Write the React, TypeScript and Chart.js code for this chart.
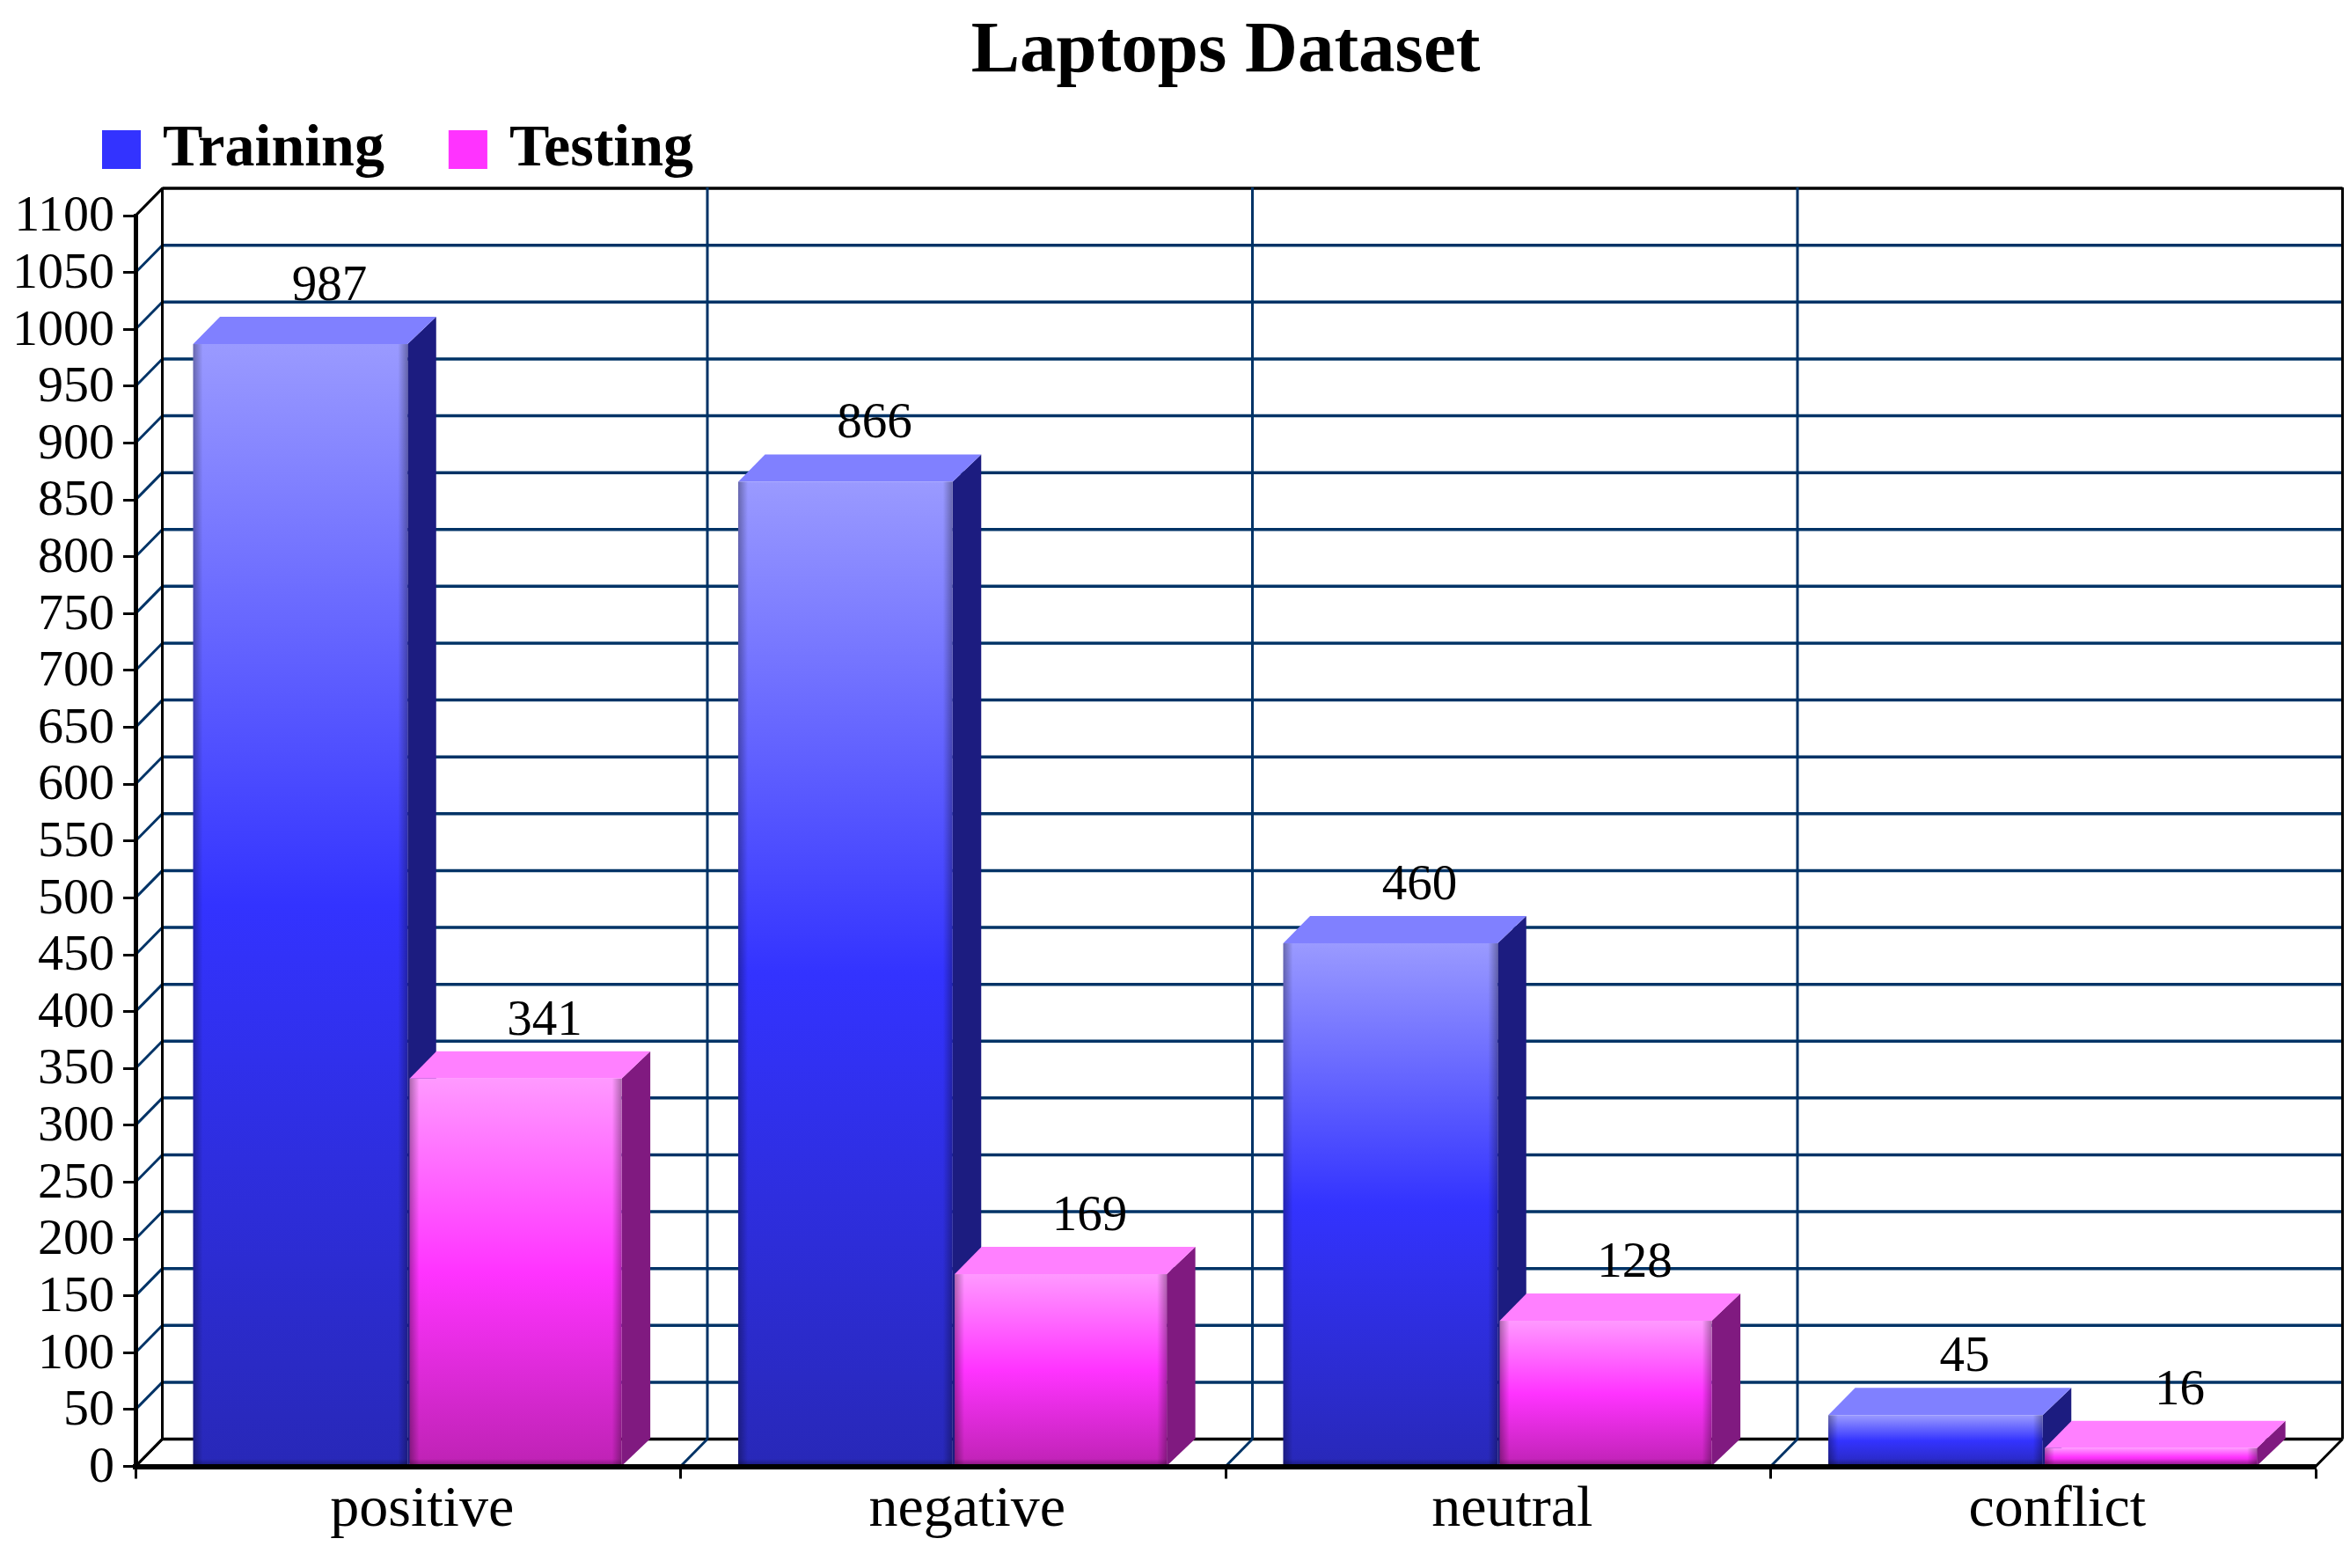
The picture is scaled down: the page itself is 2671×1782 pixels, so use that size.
import React, { useEffect, useRef } from "react";
import { Chart, registerables } from "chart.js";

Chart.register(...registerables);

const categories = ["positive", "negative", "neutral", "conflict"];
const trainingValues = [987, 866, 460, 45];
const testingValues = [341, 169, 128, 16];
const titleText = "Laptops Dataset";
const seriesNames = ["Training", "Testing"];
const swatchColors = ["#3333FF", "#FF33FF"];
const topColors = ["#8080FF", "#FF80FF"];
const sideColors = ["#1C1C80", "#801A80"];
const faceStops = [
  ["#9A9AFF", "#3333FF", "#2828B8"],
  ["#FF99FF", "#FF33FF", "#BE22B4"],
];
const GRID = "#003366";
const SERIF = "'Liberation Serif', serif";
const DX = 30.5;
const DY = 31;
const BAR_DX = 32.5;
const LEGEND_FONT = 68;
const LEGEND_PAD = 73;
const LEGEND_BOX = 35;
const SWATCH = 44;

function makeFace(ctx: any, series: number) {
  if (ctx.type !== "data") return swatchColors[series];
  const chart = ctx.chart;
  const yScale = chart.scales.y;
  if (!yScale) return swatchColors[series];
  const y1 = yScale.getPixelForValue(ctx.parsed.y);
  const y0 = yScale.getPixelForValue(0);
  const g = chart.ctx.createLinearGradient(0, y1, 0, y0);
  const s = faceStops[series];
  g.addColorStop(0, s[0]);
  g.addColorStop(0.5, s[1]);
  g.addColorStop(1, s[2]);
  return g;
}

function line(c: any, x1: number, y1: number, x2: number, y2: number, color: string, w: number) {
  c.strokeStyle = color;
  c.lineWidth = w;
  c.beginPath();
  c.moveTo(x1, y1);
  c.lineTo(x2, y2);
  c.stroke();
}

function poly(c: any, pts: number[][], color: string) {
  c.fillStyle = color;
  c.beginPath();
  pts.forEach((p, i) => (i ? c.lineTo(p[0], p[1]) : c.moveTo(p[0], p[1])));
  c.closePath();
  c.fill();
}

const depthPlugin = {
  id: "depth3d",
  afterLayout(chart: any) {
    chart.titleBlock.top = 10;
    chart.titleBlock.bottom = 110;
    chart.legend.left = 43;
    chart.legend.top = 63;
    chart.legend.bottom = 204;
  },
  beforeDatasetsDraw(chart: any) {
    const c = chart.ctx;
    const { x, y } = chart.scales;
    const n = categories.length;
    const y0 = y.getPixelForValue(0);
    const yTop = y.getPixelForValue(y.max);
    c.save();
    c.lineCap = "butt";
    y.ticks.forEach((t: any) => {
      const py = y.getPixelForValue(t.value);
      const edge = t.value === y.min || t.value === y.max;
      const col = edge ? "#000000" : GRID;
      line(c, x.left + DX, py - DY, x.right + DX, py - DY, col, 3.5);
      line(c, x.left, py, x.left + DX, py - DY, col, 3);
    });
    for (let i = 0; i <= n; i++) {
      const bx = x.left + (i * x.width) / n;
      const edge = i === 0 || i === n;
      const col = edge ? "#000000" : GRID;
      line(c, bx + DX, yTop - DY - 1, bx + DX, y0 - DY, col, 3);
      line(c, bx, y0, bx + DX, y0 - DY, col, 3);
    }
    // top and side faces of the bars
    [0, 1].forEach((ds) => {
      chart.getDatasetMeta(ds).data.forEach((b: any) => {
        const { x: cx, y: ty, base, width } = b.getProps(["x", "y", "base", "width"], true);
        const l = cx - width / 2;
        const r = cx + width / 2;
        poly(c, [[r, ty], [r + BAR_DX, ty - DY], [r + BAR_DX, base - DY], [r, base]], sideColors[ds]);
        poly(c, [[l, ty], [l + DX, ty - DY], [r + BAR_DX, ty - DY], [r, ty]], topColors[ds]);
      });
    });
    c.restore();
  },
  afterDatasetsDraw(chart: any) {
    const c = chart.ctx;
    c.save();
    [0, 1].forEach((ds) => {
      chart.getDatasetMeta(ds).data.forEach((b: any, i: number) => {
        const { x: cx, y: ty, base, width } = b.getProps(["x", "y", "base", "width"], true);
        const l = cx - width / 2;
        const r = cx + width / 2;
        const bev = 11;
        const gl = c.createLinearGradient(l, 0, l + bev, 0);
        gl.addColorStop(0, "rgba(0,0,0,0.32)");
        gl.addColorStop(1, "rgba(0,0,0,0)");
        c.fillStyle = gl;
        c.fillRect(l, ty, bev, base - ty);
        const gr = c.createLinearGradient(r - bev, 0, r, 0);
        gr.addColorStop(0, "rgba(0,0,0,0)");
        gr.addColorStop(1, "rgba(0,0,0,0.32)");
        c.fillStyle = gr;
        c.fillRect(r - bev, ty, bev, base - ty);
        const gb = c.createLinearGradient(0, base - 8, 0, base - 2);
        gb.addColorStop(0, "rgba(0,0,0,0)");
        gb.addColorStop(1, "rgba(0,0,0,0.25)");
        c.fillStyle = gb;
        c.fillRect(l, base - 8, width, 8);
        const value = chart.data.datasets[ds].data[i];
        c.fillStyle = "#000000";
        c.font = `57px ${SERIF}`;
        c.textAlign = "center";
        c.textBaseline = "alphabetic";
        c.fillText(String(value), cx + 33, ty - 50);
      });
    });
    c.restore();
  },
  afterDraw(chart: any) {
    // the legend's boxes are wider than the font-based gap allows: widen them to the right
    const c = chart.ctx;
    const lg = chart.legend;
    c.save();
    c.font = `bold ${LEGEND_FONT}px ${SERIF}`;
    let left = lg.left + LEGEND_PAD;
    const top = lg.top + LEGEND_PAD + (LEGEND_FONT - SWATCH) / 2;
    seriesNames.forEach((name, i) => {
      c.fillStyle = swatchColors[i];
      c.fillRect(left, top, SWATCH, SWATCH);
      left += LEGEND_BOX + LEGEND_FONT / 2 + c.measureText(name).width + LEGEND_PAD;
    });
    c.restore();
  },
};

export default function App() {
  const ref = useRef<HTMLCanvasElement>(null);
  useEffect(() => {
    const chart = new Chart(ref.current as HTMLCanvasElement, {
      type: "bar",
      data: {
        labels: categories,
        datasets: [
          { label: seriesNames[0], data: trainingValues, backgroundColor: (ctx: any) => makeFace(ctx, 0) },
          { label: seriesNames[1], data: testingValues, barPercentage: 0.985, backgroundColor: (ctx: any) => makeFace(ctx, 1) },
        ],
      },
      options: {
        responsive: false,
        animation: false,
        layout: { padding: { top: -5.5, left: 0, right: 39, bottom: 0 } },
        datasets: { bar: { categoryPercentage: 0.79, barPercentage: 0.996 } },
        plugins: {
          tooltip: { enabled: false },
          title: {
            display: true,
            text: titleText,
            fullSize: false,
            color: "#000000",
            padding: 0,
            font: { family: SERIF, size: 83, weight: "bold" },
          },
          legend: {
            display: true,
            position: "top",
            align: "start",
            labels: {
              boxWidth: LEGEND_BOX,
              boxHeight: SWATCH,
              padding: LEGEND_PAD,
              color: "#000000",
              font: { family: SERIF, size: LEGEND_FONT, weight: "bold" },
              generateLabels: () =>
                seriesNames.map((text, i) => ({
                  text,
                  fillStyle: swatchColors[i],
                  strokeStyle: swatchColors[i],
                  lineWidth: 0,
                  hidden: false,
                  datasetIndex: i,
                })),
            },
          },
        },
        scales: {
          x: {
            afterFit: (s: any) => {
              s.height = 115.5;
            },
            grid: { drawOnChartArea: false, drawTicks: true, tickLength: 14, tickWidth: 3, tickColor: "#000000" },
            border: { display: true, color: "#000000", width: 6, z: 1 },
            ticks: {
              color: "#000000",
              padding: -3,
              labelOffset: 16,
              maxRotation: 0,
              font: { family: SERIF, size: 66 },
            },
          },
          y: {
            min: 0,
            max: 1100,
            afterFit: (s: any) => {
              s.width = 154;
            },
            grid: { drawOnChartArea: false, drawTicks: true, tickLength: 14, tickWidth: 3, tickColor: "#000000" },
            border: { display: true, color: "#000000", width: 5, z: 1 },
            ticks: {
              stepSize: 50,
              autoSkip: false,
              color: "#000000",
              padding: 10,
              labelOffset: 2,
              callback: (v: any) => String(v),
              font: { family: SERIF, size: 58 },
            },
          },
        },
      },
      plugins: [depthPlugin],
    } as any);
    return () => chart.destroy();
  }, []);
  return (
    <canvas
      ref={ref}
      width={2671}
      height={1782}
      style={{ position: "absolute", left: 0, top: 0, display: "block", width: 2671, height: 1782 }}
    />
  );
}
